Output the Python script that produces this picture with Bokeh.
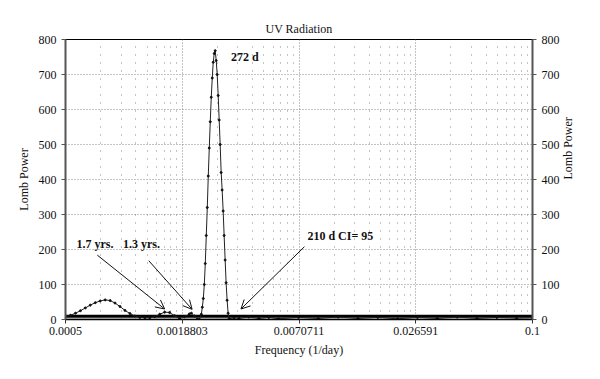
import math
from bokeh.plotting import figure
from bokeh.models import (Range1d, LinearAxis, FixedTicker, CustomJSTickFormatter,
                          Label, Arrow, OpenHead, ColumnDataSource)
from bokeh.embed import file_html
from bokeh.resources import INLINE

# ---- data ----
freq = [0.000500, 0.000529, 0.000560, 0.000592, 0.000626, 0.000662, 0.000701, 0.000741,
        0.000784, 0.000830, 0.000877, 0.000928, 0.000982, 0.001039, 0.001099, 0.001162,
        0.001230, 0.001301, 0.001376, 0.001456, 0.001540, 0.001629, 0.001723, 0.001823,
        0.001929, 0.002040, 0.002086, 0.002158, 0.002232, 0.002283, 0.002335, 0.002361,
        0.002388, 0.002415, 0.002442, 0.002470, 0.002498, 0.002526, 0.002555, 0.002584,
        0.002613, 0.002643, 0.002672, 0.002703, 0.002733, 0.002764, 0.002795, 0.002827,
        0.002859, 0.002891, 0.002924, 0.002957, 0.002991, 0.003024, 0.003059, 0.003093,
        0.003128, 0.003164, 0.003200, 0.003385, 0.003581, 0.004007, 0.004484, 0.005017,
        0.005615, 0.007031, 0.008805, 0.011026, 0.01381, 0.01729, 0.02165, 0.02711,
        0.03396, 0.04253, 0.05326, 0.0667, 0.08354, 0.1]
power = [8, 12, 18, 25, 33, 41, 48, 53,
         56, 54, 47, 37, 26, 17, 10, 6,
         5, 5, 8, 15, 21, 20, 11, 3,
         8, 16, 18, 10, 1, 0, 15, 35,
         60, 100, 160, 240, 320, 410, 490, 565,
         635, 690, 735, 760, 768, 740, 700, 640,
         570, 500, 420, 370, 310, 240, 170, 105,
         55, 18, 2, 5, 3, 7, 3, 6,
         2, 6, 3, 7, 3, 6, 2, 6,
         3, 7, 3, 6, 4, 5]

ci_freq = [0.0005, 0.1]
ci_level = [9, 9]
floor_level = [3, 3]

xtick_values = [0.0005, 0.0018803, 0.0070711, 0.026591, 0.1]
xtick_labels = ["0.0005", "0.0018803", "0.0070711", "0.026591", "0.1"]
ytick_values = [0, 100, 200, 300, 400, 500, 600, 700, 800]

annotations = [
    # text, x, y, arrow start x, y, arrow end x, y
    ("1.7 yrs.", 0.000566, 216, 0.000717, 184, 0.00154, 30),
    ("1.3 yrs.", 0.000960, 216, 0.001286, 168, 0.002103, 29),
    ("210 d CI= 95", 0.00778, 239, 0.00752, 208, 0.00366, 30),
]
peak_label = ("272 d", 0.003272, 750)

FONT = "Liberation Serif"

p = figure(width=584, height=363, x_axis_type="log",
           x_range=Range1d(0.0005, 0.1), y_range=Range1d(0, 800),
           output_backend="svg", toolbar_location=None,
           min_border_left=65, min_border_right=48, min_border_top=39,
           min_border_bottom=44, title="UV Radiation")
p.background_fill_color = "white"
p.border_fill_color = "white"
p.outline_line_color = "black"
p.outline_line_width = 1

p.title.align = "center"
p.title.text_font = FONT
p.title.text_font_size = "12px"
p.title.text_font_style = "normal"
p.title.text_color = "#111"
p.title.standoff = 8

# grids
b = xtick_values[1] / xtick_values[0]
minor = [m * b ** math.log10(k) for m in xtick_values[:-1] for k in range(2, 10)]
p.xgrid.ticker = FixedTicker(ticks=xtick_values, minor_ticks=minor)
p.xgrid.grid_line_color = "#888"
p.xgrid.grid_line_dash = "1 2"
p.xgrid.grid_line_width = 1
p.xgrid.minor_grid_line_color = "#888"
p.xgrid.minor_grid_line_dash = "1 7"
p.xgrid.minor_grid_line_width = 1
p.ygrid.ticker = FixedTicker(ticks=ytick_values)
p.ygrid.grid_line_color = "#888"
p.ygrid.grid_line_dash = "1 2"

# axes
fmt = CustomJSTickFormatter(args=dict(vals=xtick_values, labs=xtick_labels), code="""
for (let i = 0; i < vals.length; i++) {
  if (Math.abs(tick - vals[i]) <= 1e-6 * vals[i]) return labs[i];
}
return "";
""")
xa = p.xaxis[0]
xa.ticker = FixedTicker(ticks=xtick_values, minor_ticks=[])
xa.formatter = fmt
xa.axis_label = "Frequency (1/day)"

ya = p.yaxis[0]
ya.ticker = FixedTicker(ticks=ytick_values, minor_ticks=[])
ya.axis_label = "Lomb Power"

yr = LinearAxis(ticker=FixedTicker(ticks=ytick_values, minor_ticks=[]), axis_label="Lomb Power")
p.add_layout(yr, "right")
yr.axis_label_orientation = math.pi / 2

for ax in (xa, ya, yr):
    ax.major_label_text_font = FONT
    ax.major_label_text_font_size = "12px"
    ax.major_label_text_color = "#111"
    ax.axis_label_text_font = FONT
    ax.axis_label_text_font_size = "12px"
    ax.axis_label_text_font_style = "normal"
    ax.axis_label_text_color = "#111"
    ax.major_tick_in = 0
    ax.major_tick_out = 4
    ax.minor_tick_line_color = None
    ax.axis_label_standoff = 5
for ax in (ya, yr):
    ax.axis_line_color = "#555"
    ax.axis_line_width = 2
    ax.major_tick_line_color = "#555"
    ax.major_label_standoff = 5
xa.axis_line_color = "black"
xa.axis_line_width = 1.5
xa.major_tick_line_color = "#333"
xa.major_label_standoff = 3

# data
p.varea(x=ci_freq, y1=[0, 0], y2=floor_level, fill_color="#9a9a9a")
p.line(ci_freq, ci_level, line_color="black", line_width=3)
src = ColumnDataSource(dict(f=freq, pw=power))
p.line("f", "pw", source=src, line_color="#222", line_width=1)
p.scatter("f", "pw", source=src, size=2, color="#111")

for txt, tx, ty, xs, ys, xe, ye in annotations:
    p.add_layout(Label(x=tx, y=ty, text=txt, text_font=FONT, text_font_size="12px",
                       text_font_style="bold", text_baseline="middle", text_align="left",
                       text_color="#111"))
    p.add_layout(Arrow(x_start=xs, y_start=ys, x_end=xe, y_end=ye, line_color="#111",
                       line_width=1, end=OpenHead(size=9, line_width=1, line_color="#111")))
p.add_layout(Label(x=peak_label[1], y=peak_label[2], text=peak_label[0], text_font=FONT,
                   text_font_size="12px", text_font_style="bold", text_baseline="middle",
                   text_align="left", text_color="#111"))

open("out.html", "w").write(file_html(p, INLINE))
